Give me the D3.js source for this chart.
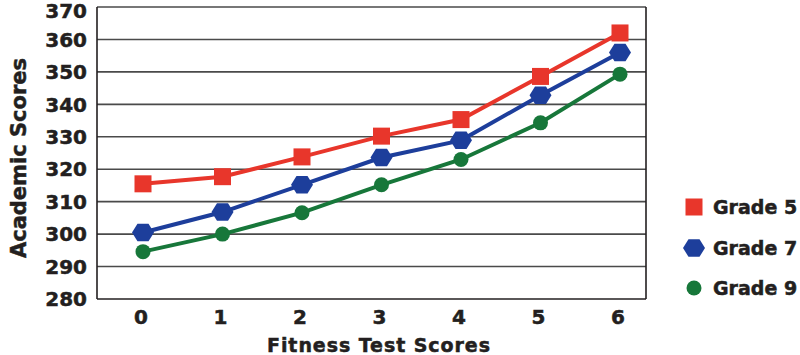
<!DOCTYPE html>
<html><head><meta charset="utf-8">
<script src="https://cdn.jsdelivr.net/npm/d3@7"></script>
<style>body{margin:0;background:#fff}svg{display:block}text{font-family:"DejaVu Sans",sans-serif;font-weight:bold;fill:#231f20;stroke:#231f20;stroke-width:0.5px}</style>
</head><body><svg id="c" width="800" height="355"></svg>
<script>
const fitness = [0,1,2,3,4,5,6];
const grade5 = [315.5,317.7,323.8,330.2,335.3,348.6,362.0];
const grade7 = [300.5,306.8,315.2,323.6,328.9,342.8,356.0];
const grade9 = [294.6,300.0,306.6,315.2,323.0,334.3,349.3];
const yTicks = [280,290,300,310,320,330,340,350,360,370];
const seriesNames = ["Grade 5","Grade 7","Grade 9"];
const seriesColors = ["#e8362b","#1d3e9b","#17773a"];
const seriesShapes = ["square","hexagon","circle"];

const svg = d3.select("#c");
const L=97, R=646, T=7, B=299;
const x = d3.scaleLinear().domain([0,6]).range([143,620]);
const y = d3.scaleLinear().domain([280,370]).range([B,T]);

// gridlines
svg.append("g").selectAll("line").data(yTicks).join("line")
  .attr("x1",L).attr("x2",R).attr("y1",d=>y(d)).attr("y2",d=>y(d))
  .attr("stroke",d=>d===280?"#231f20":"#4a4a4a").attr("stroke-width",1.6);
svg.append("line").attr("x1",L).attr("x2",L).attr("y1",T).attr("y2",B).attr("stroke","#231f20").attr("stroke-width",1.6);
svg.append("line").attr("x1",R).attr("x2",R).attr("y1",T).attr("y2",B).attr("stroke","#231f20").attr("stroke-width",1.6);

// y tick labels
svg.append("g").selectAll("text").data(yTicks).join("text")
  .attr("x",87).attr("y",d=>Math.max(y(d),10.5)).attr("dy","0.36em").attr("text-anchor","end")
  .style("font-size","20px").text(d=>d);
// x tick labels
svg.append("g").selectAll("text").data(fitness).join("text")
  .attr("x",d=>x(d)-2).attr("y",324).attr("text-anchor","middle")
  .style("font-size","20px").text(d=>d);
// axis titles
svg.append("text").attr("x",267).attr("y",352)
  .attr("textLength",223).attr("lengthAdjust","spacing")
  .style("font-size","19px").text("Fitness Test Scores");
svg.append("text").attr("transform","translate(26,158) rotate(-90)").attr("text-anchor","middle")
  .style("font-size","21px").text("Academic Scores");

const hex = r => { const p=[]; for(let i=0;i<6;i++){const a=Math.PI/3*i; p.push([r*Math.cos(a), r*Math.sin(a)*0.92]);} return "M"+p.map(q=>q.join(",")).join("L")+"Z"; };
function marker(g, shape, color){
  if(shape==="square") g.append("rect").attr("x",-8.5).attr("y",-8.5).attr("width",17).attr("height",17).attr("fill",color);
  else if(shape==="hexagon") g.append("path").attr("d",hex(11)).attr("fill",color);
  else g.append("circle").attr("r",7.5).attr("fill",color);
}

const allSeries = [grade5, grade7, grade9];
const line = d3.line().x((d,i)=>x(fitness[i])).y(d=>y(d));
// draw in order: green, blue, red on top
[2,1,0].forEach(k=>{
  svg.append("path").attr("d",line(allSeries[k])).attr("fill","none")
    .attr("stroke",seriesColors[k]).attr("stroke-width",4);
  allSeries[k].forEach((v,i)=>{
    const g = svg.append("g").attr("transform",`translate(${x(fitness[i])},${y(v)})`);
    marker(g, seriesShapes[k], seriesColors[k]);
  });
});

// legend
const legY = [207,248,288];
seriesNames.forEach((n,k)=>{
  const g = svg.append("g").attr("transform",`translate(694,${legY[k]})`);
  marker(g, seriesShapes[k], seriesColors[k]);
  svg.append("text").attr("x",713).attr("y",legY[k]).attr("dy","0.36em")
    .style("font-size","19px").text(n);
});
</script></body></html>
